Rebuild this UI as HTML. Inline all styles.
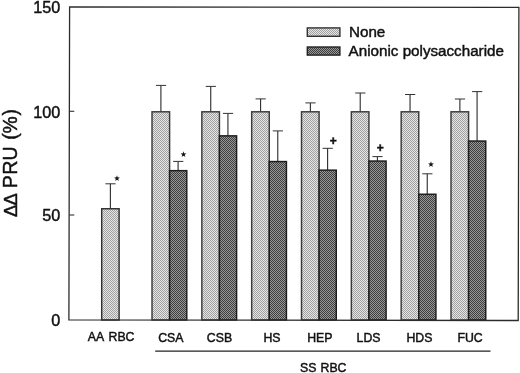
<!DOCTYPE html>
<html><head><meta charset="utf-8"><title>Figure</title>
<style>
html,body{margin:0;padding:0;background:#fff;}
svg{display:block;}
text{font-family:"Liberation Sans",Arial,Helvetica,sans-serif;fill:#111;stroke:#111;stroke-width:0.45px;}
</style></head><body>
<svg width="520" height="373" viewBox="0 0 520 373">
<defs>
<pattern id="pl" width="2" height="2" patternUnits="userSpaceOnUse"><rect width="2" height="2" fill="#e6e6e6"/><rect width="1" height="1" fill="#a0a0a0"/><rect x="1" y="1" width="1" height="1" fill="#a0a0a0"/></pattern>
<pattern id="pd" width="2" height="2" patternUnits="userSpaceOnUse"><rect width="2" height="2" fill="#989898"/><rect width="1" height="1" fill="#3e3e3e"/><rect x="1" y="1" width="1" height="1" fill="#3e3e3e"/></pattern>
</defs>
<rect width="520" height="373" fill="#fff"/>

<path d="M110.40 208.75V183.80" stroke="#333" stroke-width="1.15" fill="none"/><path d="M105.40 183.80H115.60" stroke="#333" stroke-width="1" fill="none"/>
<rect x="101.70" y="208.75" width="17.40" height="111.25" fill="url(#pl)" stroke="#303030" stroke-width="1.45"/>
<path d="M160.90 111.80V85.40" stroke="#333" stroke-width="1.15" fill="none"/><path d="M155.90 85.40H166.10" stroke="#333" stroke-width="1" fill="none"/>
<path d="M178.10 170.65V161.40" stroke="#333" stroke-width="1.15" fill="none"/><path d="M173.10 161.40H183.30" stroke="#333" stroke-width="1" fill="none"/>
<rect x="152.02" y="111.80" width="17.58" height="208.20" fill="url(#pl)" stroke="#3a3a3a" stroke-width="1.45"/>
<rect x="169.60" y="170.65" width="17.18" height="149.35" fill="url(#pd)" stroke="#1c1c1c" stroke-width="1.45"/>
<path d="M210.73 111.80V86.40" stroke="#333" stroke-width="1.15" fill="none"/><path d="M205.73 86.40H215.93" stroke="#333" stroke-width="1" fill="none"/>
<path d="M227.93 135.85V113.40" stroke="#333" stroke-width="1.15" fill="none"/><path d="M222.93 113.40H233.13" stroke="#333" stroke-width="1" fill="none"/>
<rect x="201.85" y="111.80" width="17.58" height="208.20" fill="url(#pl)" stroke="#3a3a3a" stroke-width="1.45"/>
<rect x="219.43" y="135.85" width="17.18" height="184.15" fill="url(#pd)" stroke="#1c1c1c" stroke-width="1.45"/>
<path d="M260.56 111.80V98.90" stroke="#333" stroke-width="1.15" fill="none"/><path d="M255.56 98.90H265.76" stroke="#333" stroke-width="1" fill="none"/>
<path d="M277.76 161.55V130.90" stroke="#333" stroke-width="1.15" fill="none"/><path d="M272.76 130.90H282.96" stroke="#333" stroke-width="1" fill="none"/>
<rect x="251.68" y="111.80" width="17.58" height="208.20" fill="url(#pl)" stroke="#3a3a3a" stroke-width="1.45"/>
<rect x="269.26" y="161.55" width="17.18" height="158.45" fill="url(#pd)" stroke="#1c1c1c" stroke-width="1.45"/>
<path d="M310.39 111.80V102.90" stroke="#333" stroke-width="1.15" fill="none"/><path d="M305.39 102.90H315.59" stroke="#333" stroke-width="1" fill="none"/>
<path d="M327.59 170.15V148.30" stroke="#333" stroke-width="1.15" fill="none"/><path d="M322.59 148.30H332.79" stroke="#333" stroke-width="1" fill="none"/>
<rect x="301.51" y="111.80" width="17.58" height="208.20" fill="url(#pl)" stroke="#3a3a3a" stroke-width="1.45"/>
<rect x="319.09" y="170.15" width="17.18" height="149.85" fill="url(#pd)" stroke="#1c1c1c" stroke-width="1.45"/>
<path d="M360.22 111.80V93.00" stroke="#333" stroke-width="1.15" fill="none"/><path d="M355.22 93.00H365.42" stroke="#333" stroke-width="1" fill="none"/>
<path d="M377.42 161.05V156.60" stroke="#333" stroke-width="1.15" fill="none"/><path d="M372.42 156.60H382.62" stroke="#333" stroke-width="1" fill="none"/>
<rect x="351.34" y="111.80" width="17.58" height="208.20" fill="url(#pl)" stroke="#3a3a3a" stroke-width="1.45"/>
<rect x="368.92" y="161.05" width="17.18" height="158.95" fill="url(#pd)" stroke="#1c1c1c" stroke-width="1.45"/>
<path d="M410.05 111.80V94.50" stroke="#333" stroke-width="1.15" fill="none"/><path d="M405.05 94.50H415.25" stroke="#333" stroke-width="1" fill="none"/>
<path d="M427.25 194.25V173.80" stroke="#333" stroke-width="1.15" fill="none"/><path d="M422.25 173.80H432.45" stroke="#333" stroke-width="1" fill="none"/>
<rect x="401.17" y="111.80" width="17.58" height="208.20" fill="url(#pl)" stroke="#3a3a3a" stroke-width="1.45"/>
<rect x="418.75" y="194.25" width="17.18" height="125.75" fill="url(#pd)" stroke="#1c1c1c" stroke-width="1.45"/>
<path d="M459.88 111.80V99.00" stroke="#333" stroke-width="1.15" fill="none"/><path d="M454.88 99.00H465.08" stroke="#333" stroke-width="1" fill="none"/>
<path d="M477.08 141.05V91.60" stroke="#333" stroke-width="1.15" fill="none"/><path d="M472.08 91.60H482.28" stroke="#333" stroke-width="1" fill="none"/>
<rect x="451.00" y="111.80" width="17.58" height="208.20" fill="url(#pl)" stroke="#3a3a3a" stroke-width="1.45"/>
<rect x="468.58" y="141.05" width="17.18" height="178.95" fill="url(#pd)" stroke="#1c1c1c" stroke-width="1.45"/>
<path d="M69.6 6.95L518.9 7.35L518.2 320.5L68.9 319.95Z" fill="none" stroke="#2c2c2c" stroke-width="1.3"/>
<path d="M69.3 111.3H74.3" stroke="#333" stroke-width="1.1"/>
<path d="M69.3 215.0H74.3" stroke="#333" stroke-width="1.1"/>
<text x="60.3" y="12.8" font-size="16.2" text-anchor="end">150</text>
<text x="60.3" y="117.8" font-size="16.2" text-anchor="end">100</text>
<text x="60.3" y="220.8" font-size="16.2" text-anchor="end">50</text>
<text x="60.3" y="325.8" font-size="16.2" text-anchor="end">0</text>
<text transform="translate(16.7 217) rotate(-90)" font-size="19.3"><tspan font-size="18.6">Δ<tspan dx="-0.9">Δ</tspan></tspan><tspan dx="-0.2"> </tspan>P<tspan dx="0.5">R</tspan>U<tspan dx="1.5"> </tspan>(%<tspan dx="0.8">)</tspan></text>
<rect x="307.3" y="27.9" width="32.6" height="8.4" fill="url(#pl)" stroke="#333" stroke-width="1.4"/>
<rect x="307.3" y="47.0" width="32.6" height="8.1" fill="url(#pd)" stroke="#222" stroke-width="1.4"/>
<text x="349" y="37" font-size="15.2">None</text>
<text x="348.6" y="56" font-size="15.2">Anionic polysaccharide</text>
<text x="111.15" y="340.6" font-size="12.3" word-spacing="1.6" text-anchor="middle">AA RBC</text>
<text x="170.8" y="341.7" font-size="12.3" text-anchor="middle">CSA</text>
<text x="219.45" y="341.7" font-size="12.3" text-anchor="middle">CSB</text>
<text x="272.0" y="341.7" font-size="12.3" text-anchor="middle">HS</text>
<text x="319.8" y="341.7" font-size="12.3" text-anchor="middle">HEP</text>
<text x="368.55" y="341.7" font-size="12.3" text-anchor="middle">LDS</text>
<text x="419.45" y="341.7" font-size="12.3" text-anchor="middle">HDS</text>
<text x="470.05" y="341.7" font-size="12.3" text-anchor="middle">FUC</text>
<path d="M155.2 351.1H490.5" stroke="#222" stroke-width="1.4"/>
<text x="323.25" y="372.3" font-size="12.3" word-spacing="0.7" text-anchor="middle">SS RBC</text>
<text x="117.0" y="180.2" font-size="5" text-anchor="middle" style="font-family:'DejaVu Sans',sans-serif;stroke-width:0.7px">★</text>
<text x="183.6" y="155.5" font-size="5" text-anchor="middle" style="font-family:'DejaVu Sans',sans-serif;stroke-width:0.7px">★</text>
<text x="431.0" y="166.3" font-size="5" text-anchor="middle" style="font-family:'DejaVu Sans',sans-serif;stroke-width:0.7px">★</text>
<text x="333.2" y="145.0" font-size="12" font-weight="bold" text-anchor="middle">+</text>
<text x="380.3" y="151.8" font-size="12" font-weight="bold" text-anchor="middle">+</text>
</svg></body></html>
